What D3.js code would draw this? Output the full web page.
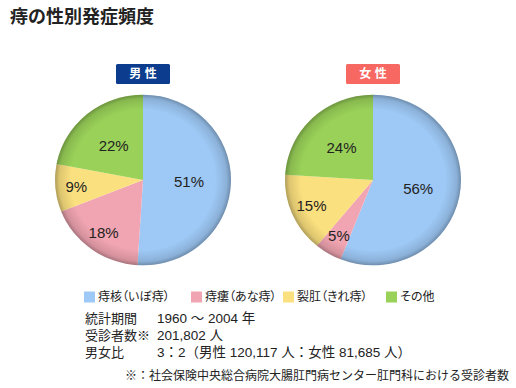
<!DOCTYPE html>
<html>
<head>
<meta charset="utf-8">
<script src="https://cdn.jsdelivr.net/npm/d3@7"></script>
<style>
  body { margin: 0; background: #fff; }
  svg text { font-family: "Liberation Sans", "Noto Sans CJK JP", sans-serif; fill: #222; }
  .palt { font-feature-settings: "palt"; }
</style>
</head>
<body>
<div id="chart"></div>
<script>
// data
var categories = ["痔核（いぼ痔）", "痔瘻（あな痔）", "裂肛（きれ痔）", "その他"];
var colors = ["#9ec9f6", "#f1a5b2", "#fbe07f", "#9ad259"];
var maleValues = [51, 18, 9, 22];
var femaleValues = [56, 5, 15, 24];
var groups = ["男 性", "女 性"];
var groupColors = ["#0c3c8e", "#f86863"];
var infoLabels = ["統計期間", "受診者数※", "男女比"];
var infoValues = ["1960 ～ 2004 年", "201,802 人", "3：2（男性 120,117 人：女性 81,685 人）"];
var footnote = "※：社会保険中央総合病院大腸肛門病センター肛門科における受診者数";

var width = 516, height = 388;
var svg = d3.select("#chart").append("svg")
  .attr("width", width)
  .attr("height", height);

var defs = svg.append("defs");
var rim = defs.append("radialGradient").attr("id", "rim");
rim.append("stop").attr("offset", "0.82").attr("stop-color", "#000").attr("stop-opacity", 0);
rim.append("stop").attr("offset", "0.95").attr("stop-color", "#000").attr("stop-opacity", 0.12);
rim.append("stop").attr("offset", "1").attr("stop-color", "#000").attr("stop-opacity", 0.3);

// title
svg.append("text")
  .attr("x", 10).attr("y", 23)
  .style("font-size", "18px")
  .style("font-weight", "bold")
  .text("痔の性別発症頻度");

var R = 88;
var pie = d3.pie().sort(null).value(d => d);
var arc = d3.arc().innerRadius(0).outerRadius(R);

var centers = d3.scalePoint().domain(groups).range([143, 373]);

[maleValues, femaleValues].forEach(function(vals, gi) {
  var cx = centers(groups[gi]), cy = 180;

  // header tag
  var tag = svg.append("g").attr("transform", `translate(${cx}, 74)`);
  tag.append("rect")
    .attr("x", -27).attr("y", -10).attr("width", 54).attr("height", 20)
    .attr("rx", 1.5)
    .attr("fill", groupColors[gi]);
  tag.append("text")
    .attr("text-anchor", "middle").attr("dy", "0.36em")
    .style("font-size", "12px").style("font-weight", "bold")
    .style("fill", "#fff")
    .text(groups[gi]);

  var g = svg.append("g").attr("transform", `translate(${cx}, ${cy}) scale(1, 0.97)`);
  var slices = pie(vals);
  g.selectAll("path.slice")
    .data(slices).enter()
    .append("path")
    .attr("class", "slice")
    .attr("d", arc)
    .attr("fill", (d, i) => colors[i]);
  g.append("circle").attr("r", R).attr("fill", "url(#rim)");

  g.selectAll("text.pct")
    .data(slices).enter()
    .append("text")
    .attr("class", "pct")
    .attr("transform", function(d) {
      var r = d.data >= 20 ? 46 : 67;
      var c = d3.arc().innerRadius(r).outerRadius(r).centroid(d);
      return `translate(${c[0]}, ${c[1]}) scale(1, ${1 / 0.97})`;
    })
    .attr("text-anchor", "middle").attr("dy", "0.36em")
    .style("font-size", "15px")
    .text(d => d.data + "%");
});

// legend
var legendX = d3.scaleOrdinal().domain(categories).range([84, 191, 283, 386]);
var legend = svg.append("g").attr("transform", "translate(0, 297)");
var items = legend.selectAll("g").data(categories).enter()
  .append("g").attr("transform", d => `translate(${legendX(d)}, 0)`);
items.append("rect")
  .attr("x", 0).attr("y", -5.5).attr("width", 11).attr("height", 11)
  .attr("fill", (d, i) => colors[i]);
items.append("text")
  .attr("class", "palt")
  .attr("x", 14).attr("dy", "0.36em")
  .style("font-size", "12px")
  .text(d => d);

// info block
var rowY = d3.scalePoint().domain(infoLabels).range([323, 357]);
infoLabels.forEach(function(lab, i) {
  svg.append("text").attr("class", "palt").attr("x", 85).attr("y", rowY(lab))
    .style("font-size", "13px").text(lab);
  svg.append("text").attr("x", 157).attr("y", rowY(lab))
    .style("font-size", "13.5px").text(infoValues[i]);
});
svg.append("text").attr("x", 125).attr("y", 380)
  .style("font-size", "12px").text(footnote);
</script>
</body>
</html>
